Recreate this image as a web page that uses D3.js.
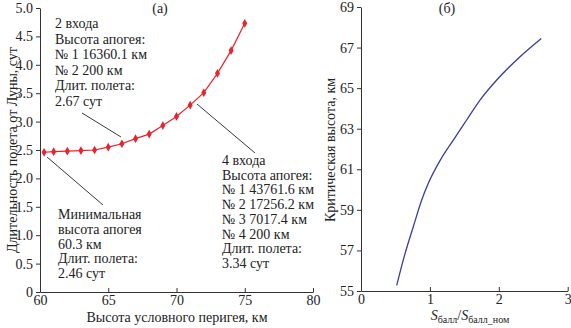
<!DOCTYPE html>
<html><head><meta charset="utf-8">
<script src="https://cdn.jsdelivr.net/npm/d3@7"></script>
<style>
html,body{margin:0;padding:0;background:#fff;}
</style></head>
<body><svg id="c" width="571" height="328"></svg>
<script>
// Panel (a)
const perigee = [60.3, 61, 62, 63, 64, 65, 66, 67, 68, 69, 70, 71, 72, 73, 74, 75];
const duration = [2.46, 2.47, 2.48, 2.49, 2.50, 2.55, 2.61, 2.70, 2.78, 2.93, 3.09, 3.29, 3.51, 3.85, 4.25, 4.73];
const xTicksA = [60, 65, 70, 75, 80];
const yTicksA = [0, 0.5, 1.0, 1.5, 2.0, 2.5, 3.0, 3.5, 4.0, 4.5, 5.0];
// Panel (b)
const ratio = [0.518, 0.639, 0.759, 0.881, 0.977, 1.157, 1.340, 1.534, 1.727, 1.970, 2.308, 2.617];
const critAlt = [55.28, 56.84, 58.17, 59.49, 60.31, 61.49, 62.44, 63.43, 64.41, 65.40, 66.55, 67.45];
const xTicksB = [0, 1, 2, 3];
const yTicksB = [55, 57, 59, 61, 63, 65, 67, 69];

const ann2 = ["2 входа", "Высота апогея:", "№ 1 16360.1 км", "№ 2 200 км", "Длит. полета:", "2.67 сут"];
const ann4 = ["4 входа", "Высота апогея:", "№ 1 43761.6 км", "№ 2 17256.2 км", "№ 3 7017.4 км", "№ 4 200 км", "Длит. полета:", "3.34 сут"];
const annMin = ["Минимальная", "высота апогея", "60.3 км", "Длит. полета:", "2.46 сут"];

const svg = d3.select("#c");
const axisCol = "#333";
const fs = 14;
const FF = "Liberation Serif";

function styleAxis(g){
  g.attr("font-family", FF);
  g.selectAll("path.domain").attr("stroke", axisCol).attr("stroke-width", 1);
  g.selectAll(".tick line").attr("stroke", axisCol);
  g.selectAll(".tick text").attr("font-family", FF).attr("font-size", 14).attr("fill", "#222");
}

// ---------- Panel (a)
const xA = d3.scaleLinear().domain([60, 80]).range([40, 313]);
const yA = d3.scaleLinear().domain([0, 5]).range([292, 8]);

const gxA = svg.append("g").attr("transform", `translate(0,${yA(0)})`)
  .call(d3.axisBottom(xA).tickValues(xTicksA).tickFormat(d3.format("d")).tickSize(-4).tickSizeOuter(0).tickPadding(3));
styleAxis(gxA);
const gyA = svg.append("g").attr("transform", `translate(${xA(60)},0)`)
  .call(d3.axisLeft(yA).tickValues(yTicksA).tickFormat(d => d === 0 ? "0" : d3.format(".1f")(d)).tickSize(4).tickSizeOuter(0).tickPadding(3));
styleAxis(gyA);

const red = "#e8232b";
svg.append("path").datum(perigee.map((p, i) => [p, duration[i]]))
  .attr("fill", "none").attr("stroke", red).attr("stroke-width", 1.2)
  .attr("d", d3.line().x(d => xA(d[0])).y(d => yA(d[1])));
svg.selectAll("path.mk").data(perigee.map((p, i) => [p, duration[i]])).join("path")
  .attr("class", "mk")
  .attr("transform", d => `translate(${xA(d[0])},${yA(d[1])})`)
  .attr("d", d3.symbol(d3.symbolDiamond, 22))
  .attr("fill", red);

function textBlock(lines, x, y0, dy){
  const t = svg.append("text").attr("font-size", fs).attr("fill", "#222").attr("font-family", FF);
  lines.forEach((l, i) => t.append("tspan").attr("x", x).attr("y", y0 + i * dy).text(l));
}
textBlock(ann2, 55, 28, 15.5);
textBlock(ann4, 222, 165, 14.7);
textBlock(annMin, 58, 219, 14.8);

const lines = [[82, 113, 121, 137], [197, 104, 255, 153], [47, 157, 103, 205]];
svg.selectAll("line.lead").data(lines).join("line").attr("class", "lead")
  .attr("x1", d => d[0]).attr("y1", d => d[1]).attr("x2", d => d[2]).attr("y2", d => d[3])
  .attr("stroke", "#222").attr("stroke-width", 0.9);

function label(x, y, txt, rot){
  return svg.append("text").attr("transform", `translate(${x},${y})` + (rot ? " rotate(-90)" : ""))
    .attr("text-anchor", "middle").attr("font-size", fs).attr("fill", "#222").attr("font-family", FF).text(txt);
}
label(160, 13, "(a)");
label(177, 322, "Высота условного перигея, км");
label(17, 150, "Длительность полета от Луны, сут", true);

// ---------- Panel (b)
const xB = d3.scaleLinear().domain([0, 3]).range([361, 567.7]);
const yB = d3.scaleLinear().domain([55, 69]).range([291, 7]);

const gxB = svg.append("g").attr("transform", `translate(0,${yB(55)})`)
  .call(d3.axisBottom(xB).tickValues(xTicksB).tickFormat(d3.format("d")).tickSize(-4).tickSizeOuter(0).tickPadding(3));
styleAxis(gxB);
const gyB = svg.append("g").attr("transform", `translate(${xB(0)},0)`)
  .call(d3.axisLeft(yB).tickValues(yTicksB).tickFormat(d3.format("d")).tickSize(4).tickSizeOuter(0).tickPadding(3));
styleAxis(gyB);

svg.append("path").datum(ratio.map((r, i) => [r, critAlt[i]]))
  .attr("fill", "none").attr("stroke", "#3a3ea0").attr("stroke-width", 1.3)
  .attr("d", d3.line().curve(d3.curveMonotoneX).x(d => xB(d[0])).y(d => yB(d[1])));

label(447, 13, "(б)");
label(335, 150, "Критическая высота, км", true);
const xt = svg.append("text").attr("x", 470).attr("y", 320).attr("text-anchor", "middle").attr("font-size", fs).attr("fill", "#222").attr("font-family", FF);
xt.append("tspan").attr("font-style", "italic").text("S");
xt.append("tspan").attr("font-size", 10).attr("dy", 3).text("балл");
xt.append("tspan").attr("dy", -3).text("/");
xt.append("tspan").attr("font-style", "italic").text("S");
xt.append("tspan").attr("font-size", 10).attr("dy", 3).text("балл_ном");
</script></body></html>
